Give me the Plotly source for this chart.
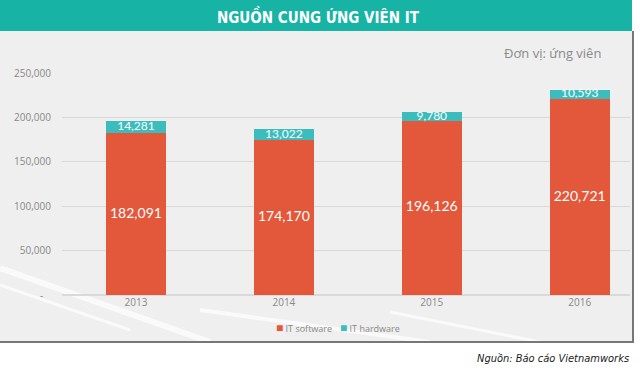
import plotly.graph_objects as go

years = ["2013", "2014", "2015", "2016"]
it_software = [182091, 174170, 196126, 220721]
it_hardware = [14281, 13022, 9780, 10593]
y_tickvals = [0, 50000, 100000, 150000, 200000, 250000]
y_ticktext = ["-\u00a0\u00a0\u00a0", "50,000", "100,000", "150,000", "200,000", "250,000"]

C_SOFT = "#e3573a"
C_HARD = "#3bbdbd"
TEAL = "#17b3a5"

L, R, T, B = 62, 630, 73, 295
W, H = R - L, B - T
def px(x): return (x - L) / W
def py(y): return (B - y) / H

fig = go.Figure()
fig.add_trace(go.Bar(x=years, y=it_software, name="IT software", marker_color=C_SOFT,
                     width=0.405, marker_line_width=0))
fig.add_trace(go.Bar(x=years, y=it_hardware, name="IT hardware", marker_color=C_HARD,
                     width=0.405, marker_line_width=0))
fig.add_trace(go.Scatter(x=years, y=[s / 2 for s in it_software], mode="text",
                         text=[f"{v:,}" for v in it_software], showlegend=False,
                         textfont=dict(color="white", size=14, family="Lato"), hoverinfo="skip"))
fig.add_trace(go.Scatter(x=years, y=[s + h / 2 for s, h in zip(it_software, it_hardware)], mode="text",
                         text=[f"{v:,}" for v in it_hardware], showlegend=False,
                         textfont=dict(color="white", size=12, family="Lato"), hoverinfo="skip"))

shapes = [
    dict(type="rect", xref="paper", yref="paper", x0=px(0), x1=px(633), y0=py(342), y1=py(31),
         fillcolor="#efefef", line_width=0, layer="below"),
    dict(type="rect", xref="paper", yref="paper", x0=px(0), x1=px(632), y0=py(31), y1=py(0),
         fillcolor=TEAL, line_width=0, layer="below"),
    dict(type="line", xref="paper", yref="paper", x0=px(633), x1=px(633), y0=py(342), y1=py(31),
         line=dict(color="#777", width=2)),
    dict(type="line", xref="paper", yref="paper", x0=px(0), x1=px(634), y0=py(342), y1=py(342),
         line=dict(color="#777", width=2)),
]
# faint decorative diagonal streaks
for (x0, y0, x1, y1, w) in [(0, 268, 210, 342, 6), (0, 285, 130, 330, 3), (200, 310, 430, 342, 4),
                            (390, 312, 540, 342, 3)]:
    shapes.append(dict(type="line", xref="paper", yref="paper", x0=px(x0), y0=py(y0), x1=px(x1), y1=py(y1),
                       line=dict(color="rgba(255,255,255,0.7)", width=w), layer="below"))

COND = "DejaVu Sans Condensed, Liberation Sans Narrow, Roboto"
annotations = [
    dict(text="<b>NGUỒN CUNG ỨNG VIÊN IT</b>", xref="paper", yref="paper", x=px(318), y=py(16),
         showarrow=False, font=dict(color="white", size=15, family=COND),
         xanchor="center", yanchor="middle"),
    dict(text="Đơn vị: ứng viên", xref="paper", yref="paper", x=px(603), y=py(53),
         showarrow=False, font=dict(color="#8a8a8a", size=13, family="Open Sans"),
         xanchor="right", yanchor="middle"),
    dict(text="<i>Nguồn: Báo cáo Vietnamworks</i>", xref="paper", yref="paper", x=px(631), y=py(358),
         showarrow=False, font=dict(color="#222", size=11, family=COND),
         xanchor="right", yanchor="middle"),
    dict(text=f'<span style="color:{C_SOFT};font-size:12px">■</span> IT software', xref="paper", yref="paper",
         x=px(274), y=py(327), showarrow=False, xanchor="left", yanchor="middle",
         font=dict(color="#888", size=9, family="Open Sans")),
    dict(text=f'<span style="color:{C_HARD};font-size:12px">■</span> IT hardware', xref="paper", yref="paper",
         x=px(338), y=py(327), showarrow=False, xanchor="left", yanchor="middle",
         font=dict(color="#888", size=9, family="Open Sans")),
]

fig.update_layout(
    width=640, height=378,
    margin=dict(l=L, r=640 - R, t=T, b=378 - B),
    barmode="stack",
    paper_bgcolor="white", plot_bgcolor="rgba(0,0,0,0)",
    shapes=shapes, annotations=annotations,
    showlegend=False,
    font=dict(family="Open Sans", color="#888"),
)
fig.update_xaxes(type="category", range=[-0.5, 3.34], showgrid=False, showline=False, ticks="",
                 tickfont=dict(size=10, color="#888"), fixedrange=True)
fig.update_yaxes(range=[0, 250000], tickvals=y_tickvals, ticktext=y_ticktext, showgrid=True,
                 gridcolor="#d9d9d9", gridwidth=1, zeroline=True, zerolinecolor="#d9d9d9",
                 tickfont=dict(size=10, color="#888"), ticks="", ticklabelstandoff=10, fixedrange=True)

fig.write_html("out.html", config={"displayModeBar": False})
with open("out.html", encoding="utf-8") as f:
    html = f.read()
html = html.replace("<body>", '<body style="margin:0;padding:0;overflow:hidden">', 1)
with open("out.html", "w", encoding="utf-8") as f:
    f.write(html)
